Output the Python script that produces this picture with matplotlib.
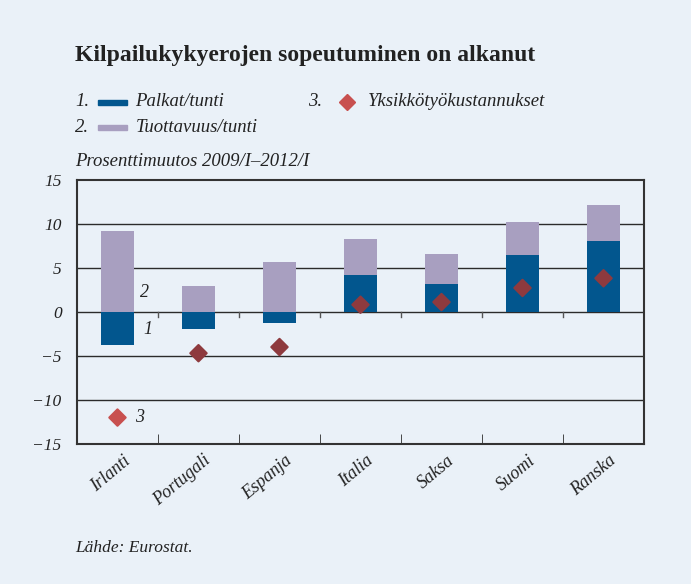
import matplotlib
matplotlib.use("Agg")
import matplotlib.pyplot as plt
import matplotlib.transforms as mtransforms
import numpy as np

countries = ["Irlanti", "Portugali", "Espanja", "Italia", "Saksa", "Suomi", "Ranska"]
palkat = [-3.8, -1.9, -1.3, 4.2, 3.2, 6.4, 8.0]          # 1. Palkat/tunti
tuottavuus = [9.2, 2.9, 5.6, 4.1, 3.3, 3.8, 4.1]         # 2. Tuottavuus/tunti
yksikko = [-12.0, -4.7, -4.0, 0.8, 1.1, 2.7, 3.8]         # 3. Yksikkötyökustannukset
yticks = [-15, -10, -5, 0, 5, 10, 15]

C = {
    'bg': '#EAF1F8',
    'blue': '#02568E',
    'purple': '#A89FC0',
    'red_dark': '#8E3A3E',
    'red_light': '#C8504F',
    'grid': '#2B2B2B',
    'text': '#222222',
}
SERIF = 'Liberation Serif'

fig = plt.figure(figsize=(6.91, 5.84), dpi=100, facecolor=C['bg'])
ax = fig.add_axes([0.1114, 0.2397, 0.8206, 0.4529])
ax.set_facecolor(C['bg'])

x = np.arange(len(countries))
palkat = np.array(palkat)
# productivity sits on top of positive wage bars, from zero otherwise
base = np.where(palkat > 0, palkat, 0)
ax.bar(x, palkat, width=0.4, color=C['blue'], zorder=3)
ax.bar(x, tuottavuus, bottom=base, width=0.4, color=C['purple'], zorder=3)

pt_colors = [C['red_light']] + [C['red_dark']] * (len(countries) - 1)
ax.scatter(x, yksikko, marker='D', s=70, c=pt_colors, edgecolors=pt_colors,
           linewidths=1.5, zorder=4)

ax.set_xlim(-0.5, len(countries) - 0.5)
ax.set_ylim(-15, 15)
for y in yticks[1:-1]:
    ax.axhline(y, color=C['grid'], lw=1.0, zorder=2)

bounds = x[:-1] + 0.5
for b in bounds:
    ax.plot([b, b], [0, -0.6], color='#555555', lw=1.0, zorder=2)

ax.set_yticks(yticks)
ax.set_yticklabels([str(v).replace('-', '\u2212') for v in yticks],
                   family=SERIF, style='italic', fontsize=12.5, color=C['text'])
ax.tick_params(axis='y', length=0, pad=11)

# category labels, rotated, placed by hand so they can sit right of centre
ax.set_xticks([])
lab_tr = ax.get_xaxis_transform() + mtransforms.ScaledTranslation(
    5 / 100, -8 / 100, fig.dpi_scale_trans)
for xi, name in zip(x, countries):
    ax.text(xi, 0, name, transform=lab_tr, family=SERIF, style='italic', fontsize=13,
            rotation=40, ha='right', va='top', rotation_mode='anchor', color=C['text'])
ax.set_xticks(bounds, minor=True)
ax.tick_params(axis='x', which='minor', direction='in', length=7, color=C['grid'])
for s in ax.spines.values():
    s.set_color('#333333')
    s.set_linewidth(1.5)

# labels on Irlanti
ax.text(0.28, 2.2, "2", family=SERIF, style='italic', fontsize=13, va='center', color=C['text'])
ax.text(0.32, -2.0, "1", family=SERIF, style='italic', fontsize=13, va='center', color=C['text'])
ax.text(0.22, -12.0, "3", family=SERIF, style='italic', fontsize=13, va='center', color=C['text'])

# title and legend
fig.text(75 / 691, 1 - 55 / 584, "Kilpailukykyerojen sopeutuminen on alkanut",
         family=SERIF, weight='bold', fontsize=17, va='center', color=C['text'])
leg_font = dict(family=SERIF, style='italic', fontsize=13.5, va='center', color=C['text'])
fig.text(75 / 691, 1 - 102 / 584, "1.", **leg_font)
fig.text(75 / 691, 1 - 127 / 584, "2.", **leg_font)
fig.text(308 / 691, 1 - 102 / 584, "3.", **leg_font)
fig.text(135 / 691, 1 - 102 / 584, "Palkat/tunti", **leg_font)
fig.text(136 / 691, 1 - 127 / 584, "Tuottavuus/tunti", **leg_font)
fig.text(368 / 691, 1 - 102 / 584, "Yksikkötyökustannukset", **leg_font)
fig.patches.append(plt.Rectangle((98 / 691, 1 - 105 / 584), 29 / 691, 5 / 584,
                                 transform=fig.transFigure, color=C['blue']))
fig.patches.append(plt.Rectangle((98 / 691, 1 - 130 / 584), 29 / 691, 5 / 584,
                                 transform=fig.transFigure, color=C['purple']))
fig.add_artist(plt.Line2D([347 / 691], [1 - 102 / 584], marker='D', markersize=8,
                          color=C['red_light'], transform=fig.transFigure, lw=0))

fig.text(75 / 691, 1 - 162 / 584, "Prosenttimuutos 2009/I\u20132012/I", **leg_font)
fig.text(75 / 691, 1 - 548 / 584, "Lähde: Eurostat.", family=SERIF, style='italic',
         fontsize=12.5, va='center', color=C['text'])

fig.savefig("out.png", dpi=100, facecolor=C['bg'])
